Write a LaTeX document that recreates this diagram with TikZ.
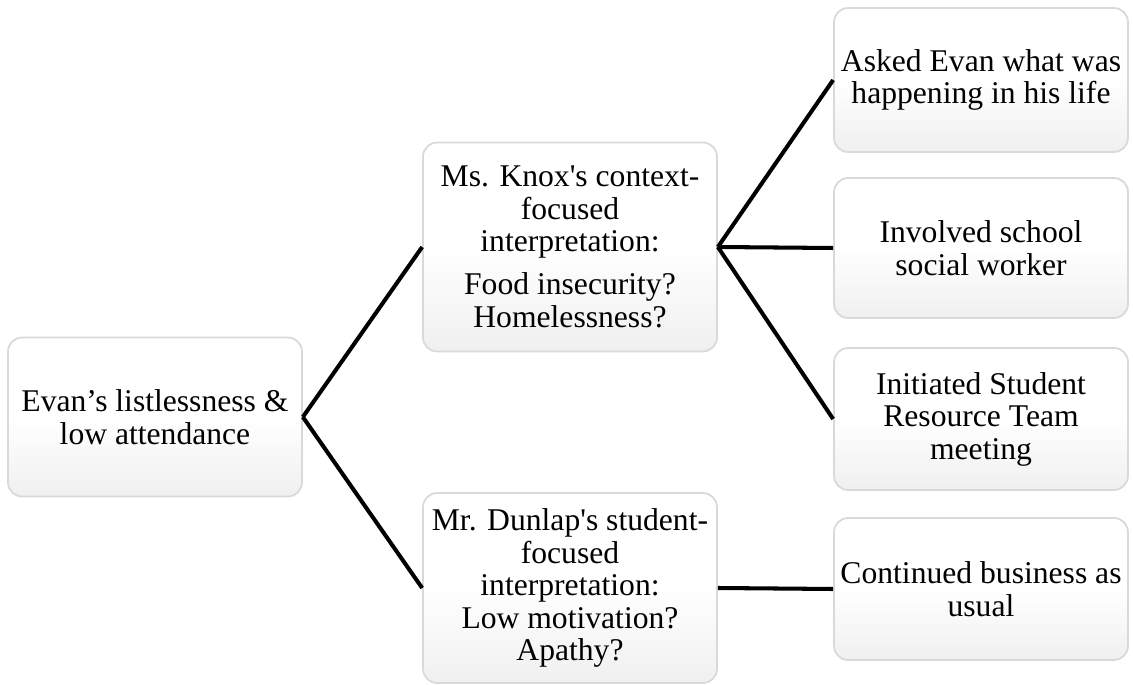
\documentclass[tikz,border=0pt]{standalone}
\usepackage{fontspec}
\setmainfont{Liberation Serif}
\newfontfamily\straightserif{Liberation Serif}
\usetikzlibrary{positioning, calc}

\newcommand{\apos}{{\straightserif'}}

\tikzset{
	card/.style={draw=gray!30, line width=1pt, rounded corners=8pt, top color=white, bottom color=gray!12, middle color=white, align=center, inner sep=2pt, minimum width=5.88cm, font=\fontsize{18}{18.5}\selectfont},
	link/.style={line width=2.3pt, black}
}

\begin{document}
\begin{tikzpicture}[x=0.02cm, y=-0.02cm]
			\useasboundingbox (0,0) rectangle (1133,685);
			% boxes
			\node[card, minimum height=3.18cm] (evan) at (155,417) {Evan’s listlessness \&\\ low attendance};
			\node[card, minimum height=4.18cm] (knox) at (570,247) {Ms. Knox\apos s context-\\focused\\interpretation:\\[6pt] Food insecurity?\\Homelessness?};
			\node[card, minimum height=3.80cm] (dunlap) at (570,588) {Mr. Dunlap\apos s student-\\focused\\interpretation:\\Low motivation?\\Apathy?};
			
			\node[card, minimum height=2.88cm] (asked) at (981,80) {Asked Evan what was\\happening in his life};
			\node[card, minimum height=2.80cm] (involved) at (981,248) {Involved school\\social worker};
			\node[card, minimum height=2.84cm] (initiated) at (981,419) {Initiated Student\\Resource Team\\meeting};
			\node[card, minimum height=2.84cm] (continued) at (981,589) {Continued business as\\usual};
			
			% connectors
			\draw[link] (evan.east) -- (knox.west);
			\draw[link] (evan.east) -- (dunlap.west);
			\draw[link] (knox.east) -- (asked.west);
			\draw[link] (knox.east) -- (involved.west);
			\draw[link] (knox.east) -- (initiated.west);
			\draw[link] (dunlap.east) -- (continued.west);
		\end{tikzpicture}
\end{document}
